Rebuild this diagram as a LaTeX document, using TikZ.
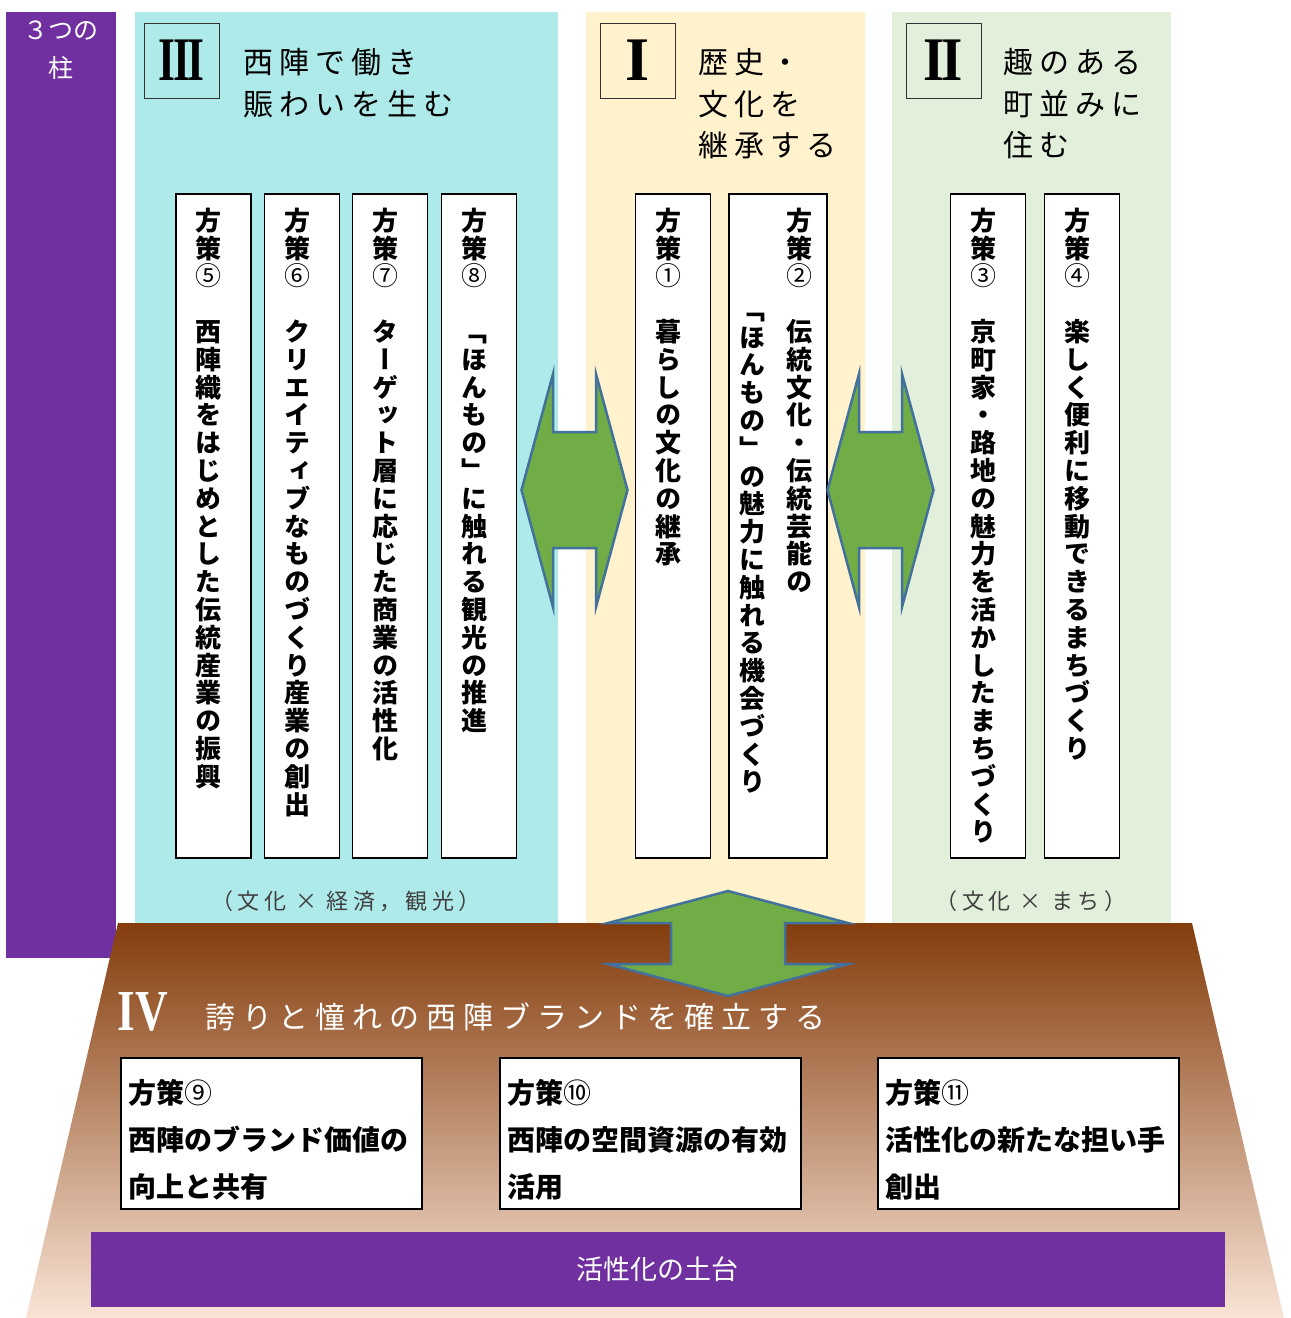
\documentclass[tikz,border=0pt]{standalone}
\usepackage{fontspec}
\usetikzlibrary{positioning}
\setmainfont{Liberation Serif}
\newfontfamily\jp{Noto Sans CJK JP}
\newfontfamily\jpspaced[LetterSpace=20]{Noto Sans CJK JP}
\newfontfamily\jpwide[LetterSpace=23]{Noto Sans CJK JP}
\newfontfamily\tatejp[RawFeature=+vert]{Noto Sans CJK JP}

\definecolor{hashira}{RGB}{112,48,160}
\definecolor{keizai}{RGB}{174,234,233}
\definecolor{rekishi}{RGB}{255,242,204}
\definecolor{machi}{RGB}{226,239,218}
\definecolor{brandtop}{RGB}{132,60,12}
\definecolor{brandbot}{RGB}{249,228,214}
\definecolor{yaji}{RGB}{112,173,71}
\definecolor{yajiline}{RGB}{65,113,156}

% one character per row, for the vertical columns
\def\tateloop#1{\ifx\relax#1\else\hbox to 28pt{\hss#1\hss}\expandafter\tateloop\fi}
\newcommand\tate[1]{\vbox{\tatejp\bfseries\fontsize{26}{27.8}\selectfont
  \baselineskip=27.8pt\lineskiplimit=-100pt\tateloop#1\relax}}

\tikzset{
  hoshin/.style={draw=black,line width=1.8pt,fill=white,minimum width=75,minimum height=664,anchor=north,inner sep=0pt},
  tatecol/.style={inner sep=0pt,outer sep=0pt},
  romanbox/.style={draw=black!80,line width=1pt,minimum size=75,inner sep=0pt,font=\bfseries\fontsize{62}{62}\selectfont},
  midashi/.style={anchor=west,align=left,inner sep=0pt,font=\jpspaced\fontsize{30}{41.5}\selectfont},
  kakko/.style={inner sep=0pt,text=black!75,font=\jpspaced\fontsize{22}{22}\selectfont},
  sakubox/.style={draw=black,line width=1.8pt,fill=white,minimum width=301,minimum height=151,anchor=north west,inner sep=0pt},
  sakutext/.style={inner sep=0pt,align=left,font=\jp\bfseries\fontsize{28}{47}\selectfont},
  yajirushi/.style={fill=yaji,draw=yajiline,line width=2.5pt,line join=miter}
}

\begin{document}
\begin{tikzpicture}[x=1pt,y=-1pt]
\useasboundingbox (0,0) rectangle (1291,1318);

% pillars
\fill[hashira] (6,12) rectangle (116,958);
\fill[keizai] (135,12) rectangle (558,923);
\fill[rekishi] (586,12) rectangle (865,923);
\fill[machi] (892,12) rectangle (1171,923);

\node[align=center,text=white,inner sep=0pt,font=\jp\fontsize{25}{38}\selectfont] (hashira) at (61,50) {３つの\\柱};

% headings
\node[romanbox] (r3) at (181.5,60.5) {\scalebox{0.7}[1]{I\kern-0.06em I\kern-0.06em I}};
\node[midashi] (m3) at (243,83) {西陣で働き\\賑わいを生む};
\node[romanbox] (r1) at (637.5,60.5) {I};
\node[midashi] (m1) at (698,104) {歴史・\\文化を\\継承する};
\node[romanbox] (r2) at (943.5,60.5) {\scalebox{0.88}[1]{I\kern-0.06em I}};
\node[midashi] (m2) at (1003,104) {趣のある\\町並みに\\住む};

% vertical boxes
\node[hoshin] (s5) at (213.5,193) {};
\node[hoshin] (s6) at (302,193) {};
\node[hoshin] (s7) at (390,193) {};
\node[hoshin] (s8) at (479,193) {};
\node[hoshin] (s1) at (673,193) {};
\node[hoshin,minimum width=98] (s2) at (778,193) {};
\node[hoshin] (s3) at (988,193) {};
\node[hoshin] (s4) at (1082,193) {};

\node[tatecol,below=15pt of s5.north,xshift=-5pt] (t5) {\tate{方策{\mdseries⑤}~西陣織をはじめとした伝統産業の振興}};
\node[tatecol,below=15pt of s6.north,xshift=-5pt] (t6) {\tate{方策{\mdseries⑥}~クリエイティブなものづくり産業の創出}};
\node[tatecol,below=15pt of s7.north,xshift=-5pt] (t7) {\tate{方策{\mdseries⑦}~ターゲット層に応じた商業の活性化}};
\node[tatecol,below=15pt of s8.north,xshift=-5pt] (t8) {\tate{方策{\mdseries⑧}~「ほんもの」に触れる観光の推進}};
\node[tatecol,below=15pt of s1.north,xshift=-5pt] (t1) {\tate{方策{\mdseries①}~暮らしの文化の継承}};
\node[tatecol,below=15pt of s2.north,xshift=21pt] (t2a) {\tate{方策{\mdseries②}~伝統文化・伝統芸能の}};
\node[tatecol,below=15pt of s2.north,xshift=-26pt] (t2b) {\tate{~~~~「ほんもの」の魅力に触れる機会づくり}};
\node[tatecol,below=15pt of s3.north,xshift=-5pt] (t3) {\tate{方策{\mdseries③}~京町家・路地の魅力を活かしたまちづくり}};
\node[tatecol,below=15pt of s4.north,xshift=-5pt] (t4) {\tate{方策{\mdseries④}~楽しく便利に移動できるまちづくり}};

\node[kakko] (k3) at (346,901) {（文化 × 経済，観光）};
\node[kakko] (k2) at (1031,901) {（文化 × まち）};

% left-right arrows between the pillars
\foreach \cx in {574.5,880.5}
  \filldraw[yajirushi] (\cx-53,490) -- (\cx-21.5,374) -- (\cx-21.5,432) -- (\cx+21.5,432)
    -- (\cx+21.5,374) -- (\cx+53,490) -- (\cx+21.5,607) -- (\cx+21.5,548)
    -- (\cx-21.5,548) -- (\cx-21.5,607) -- cycle;

% base
\shade[top color=brandtop,bottom color=brandbot] (118,923) -- (1192,923) -- (1284,1318) -- (26,1318) -- cycle;

\filldraw[yajirushi] (728,891) -- (848,923) -- (785,923) -- (785,964) -- (848,964)
  -- (728,996) -- (608,964) -- (671,964) -- (671,923) -- (608,923) -- cycle;

\node[text=white,inner sep=0pt,font=\bfseries\fontsize{58}{58}\selectfont] (r4) at (143,1012) {\scalebox{0.78}[1]{IV}};
\node[midashi,text=white,font=\jpwide\fontsize{30}{30}\selectfont] (m4) at (205,1017) {誇りと憧れの西陣ブランドを確立する};

\node[sakubox] (s9) at (120,1057) {};
\node[sakubox] (s10) at (499,1057) {};
\node[sakubox] (s11) at (877,1057) {};
\node[sakutext,below right=22pt and 8pt of s9.north west] (t9) {方策{\mdseries⑨}\\西陣のブランド価値の\\向上と共有};
\node[sakutext,below right=22pt and 8pt of s10.north west] (t10) {方策{\mdseries⑩}\\西陣の空間資源の有効\\活用};
\node[sakutext,below right=22pt and 8pt of s11.north west] (t11) {方策{\mdseries⑪}\\活性化の新たな担い手\\創出};

\node[fill=hashira,minimum width=1134,minimum height=75,inner sep=0pt,text=white,font=\jp\fontsize{27}{27}\selectfont] (dodai) at (657.5,1269) {活性化の土台};
\end{tikzpicture}
\end{document}
